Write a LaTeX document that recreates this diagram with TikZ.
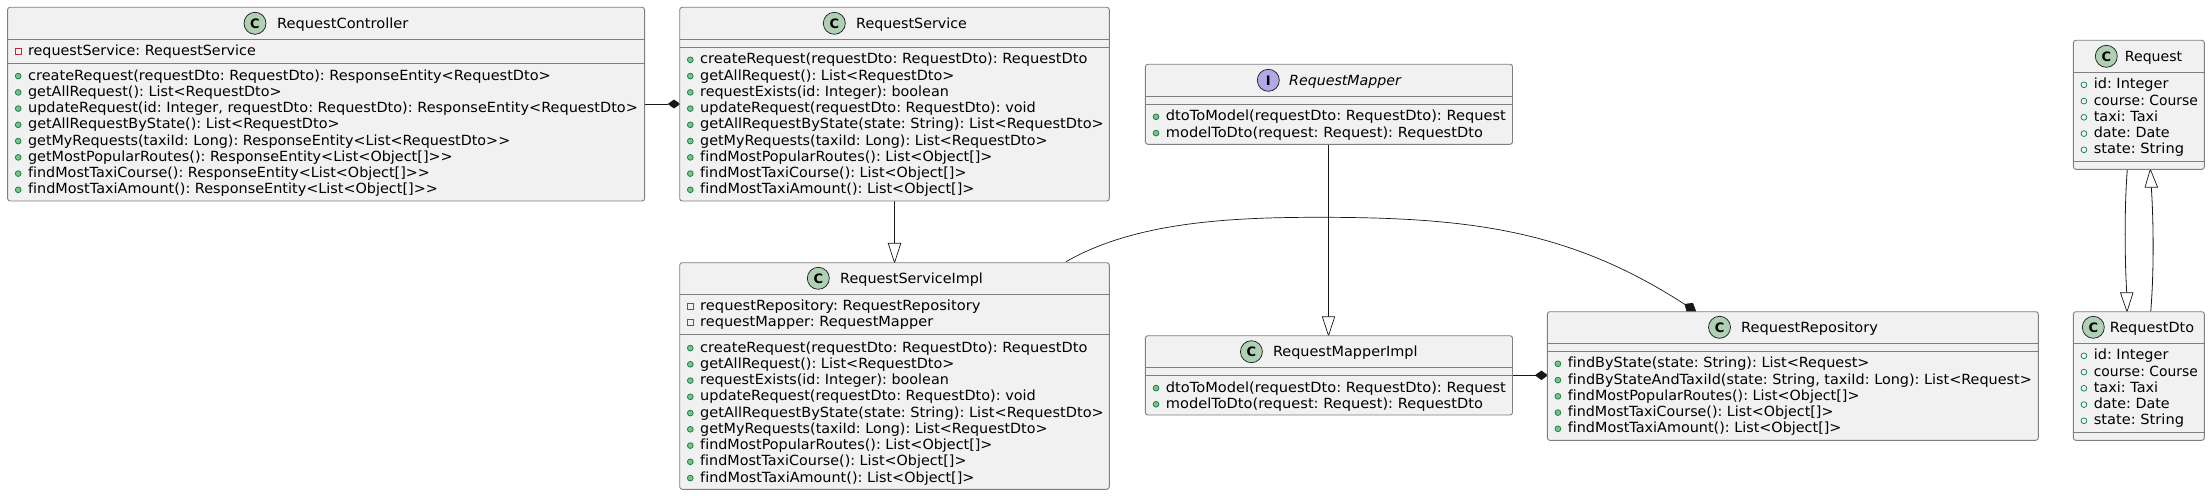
\documentclass[tikz,border=0pt]{standalone}
\usepackage{fontspec}
\usepackage{graphicx}
\setmainfont[Ligatures=NoCommon]{DejaVu Sans}
\AtBeginDocument{\frenchspacing}
\usetikzlibrary{calc}
\definecolor{boxfill}{HTML}{F1F1F1}
\definecolor{inkc}{HTML}{181818}
\definecolor{framec}{HTML}{7F7F7F}
\definecolor{spotc}{HTML}{ADD1B2}
\definecolor{spoti}{HTML}{B4A7E5}
\definecolor{pubc}{HTML}{038048}
\definecolor{pubf}{HTML}{84BE84}
\definecolor{privc}{HTML}{C82930}
\tikzset{
  x=1pt,y=-1pt,
  umlbox/.style={draw=framec,fill=boxfill,line width=0.9pt,rounded corners=2.5pt},
  sepline/.style={draw=framec,line width=0.9pt},
  rel/.style={draw=inkc,line width=0.8pt},
  hollowtip/.style={draw=inkc,fill=white,line width=0.7pt},
  solidtip/.style={draw=inkc,fill=inkc,line width=0.7pt},
  spot/.style={circle,draw=inkc,line width=0.7pt,minimum size=22pt,inner sep=0pt,font=\fontsize{13}{13}\selectfont\bfseries},
  titletext/.style={inner sep=0pt,anchor=base west,font=\fontsize{14}{14}\selectfont},
  rowtext/.style={inner sep=0pt,anchor=base west,font=\fontsize{14}{14}\selectfont},
}
% set text so that its width is #1 px
\newsavebox{\fitsave}
\newcommand{\fitw}[2]{%
  \sbox{\fitsave}{#2}%
  \pgfmathsetmacro{\fitratio}{#1/(\wd\fitsave/1pt)}%
  \scalebox{\fitratio}[1]{\usebox{\fitsave}}%
}
\newcommand{\frameclass}[7]{%
  \path[umlbox] (#2,#4) rectangle (#3,#7);
  \draw[sepline] (#2,#5) -- (#3,#5);
  \draw[sepline] (#2,#6) -- (#3,#6);
}
\newcommand{\heading}[7]{%
  \node[spot,fill=spotc] (#1-spot) at (#3,#4) {#2};
  \node[titletext] (#1-title) at (#5,#4+5) {\fitw{#6}{#7}};
}
\newcommand{\methodrow}[4]{%
  \path[draw=pubc,fill=pubf,line width=0.7pt] (#1+10.6,#2+0.8) circle[radius=2.9pt];
  \node[rowtext] at (#1+20.3,#2+4.8) {\fitw{#3}{#4}};
}
\newcommand{\fieldrow}[4]{%
  \path[draw=pubc,line width=0.7pt] (#1+10.6,#2+0.8) circle[radius=2.9pt];
  \node[rowtext] at (#1+20.3,#2+4.8) {\fitw{#3}{#4}};
}
\newcommand{\privrow}[4]{%
  \path[draw=privc,line width=0.7pt] (#1+7.4,#2-2.2) rectangle ++(6,6);
  \node[rowtext] at (#1+20.3,#2+4.8) {\fitw{#3}{#4}};
}
\newcommand{\lt}{\textless\kern0pt }
\newcommand{\gtr}{\textgreater\kern0pt }
\begin{document}
\begin{tikzpicture}
\useasboundingbox (0,0) rectangle (2210,495);
\path[fill=white] (0,0) rectangle (2210,495);
\draw[rel] (644.6,104) -- (668.3,104);
\path[solidtip] (668.3,104) -- (674,100) -- (679.7,104) -- (674,108) -- cycle;
\draw[rel] (894.5,201) -- (894.5,243.3);
\path[hollowtip] (888.2,243.3) -- (900.8,243.3) -- (894.5,262.7) -- cycle;
\draw[rel] (1328.5,144.3) -- (1328.5,316.7);
\path[hollowtip] (1322.3,316.7) -- (1334.7,316.7) -- (1328.5,335.7) -- cycle;
\draw[rel] (1512.5,375.3) -- (1535.5,375.3);
\path[solidtip] (1535.5,375.3) -- (1541.4,371) -- (1547.3,375.3) -- (1541.4,379.6) -- cycle;
\draw[rel,line width=0.7pt] (1066,261.7) .. controls (1135,222) and (1230,217.3) .. (1319,217.3) .. controls (1470,217.3) and (1570,230) .. (1685,304.5);
\path[solidtip] (1685,304.3) -- (1692.7,303.3) -- (1696,312) -- (1687,312) -- cycle;
\draw[rel] (2127.3,169.3) .. controls (2124.5,205) and (2124.5,255) .. (2126.7,292.7);
\path[hollowtip] (2120.4,292.7) -- (2133,292.7) -- (2127,311.7) -- cycle;
\draw[rel] (2150.7,311.7) .. controls (2153.8,275) and (2153.8,225) .. (2151.3,187.3);
\path[hollowtip] (2145,187.3) -- (2157.6,187.3) -- (2150.3,169.3) -- cycle;

\frameclass{ctrl}{7.6}{644.6}{7.3}{39.3}{63.3}{201}
\heading{ctrl}{C}{255}{23.3}{277}{131.2}{RequestController}
\privrow{7.6}{51}{227.7}{requestService: RequestService}
\methodrow{7.6}{75.3}{522.8}{createRequest(requestDto: RequestDto): ResponseEntity\lt RequestDto\gtr}
\methodrow{7.6}{91.6}{253.6}{getAllRequest(): List\lt RequestDto\gtr}
\methodrow{7.6}{107.8}{609.8}{updateRequest(id: Integer, requestDto: RequestDto): ResponseEntity\lt RequestDto\gtr}
\methodrow{7.6}{124}{311.6}{getAllRequestByState(): List\lt RequestDto\gtr}
\methodrow{7.6}{140.3}{482.1}{getMyRequests(taxiId: Long): ResponseEntity\lt List\lt RequestDto\gtr\gtr}
\methodrow{7.6}{156.6}{424.6}{getMostPopularRoutes(): ResponseEntity\lt List\lt Object[]\gtr\gtr}
\methodrow{7.6}{172.8}{401.8}{findMostTaxiCourse(): ResponseEntity\lt List\lt Object[]\gtr\gtr}
\methodrow{7.6}{189}{409.8}{findMostTaxiAmount(): ResponseEntity\lt List\lt Object[]\gtr\gtr}

\frameclass{svc}{679.7}{1109.3}{7.3}{39.3}{47.3}{201}
\heading{svc}{C}{834.3}{23.3}{856}{110.7}{RequestService}
\methodrow{679.7}{59}{387.3}{createRequest(requestDto: RequestDto): RequestDto}
\methodrow{679.7}{75.3}{254.3}{getAllRequest(): List\lt RequestDto\gtr}
\methodrow{679.7}{91.6}{248.7}{requestExists(id: Integer): boolean}
\methodrow{679.7}{107.8}{335.7}{updateRequest(requestDto: RequestDto): void}
\methodrow{679.7}{124}{403.7}{getAllRequestByState(state: String): List\lt RequestDto\gtr}
\methodrow{679.7}{140.3}{347.3}{getMyRequests(taxiId: Long): List\lt RequestDto\gtr}
\methodrow{679.7}{156.6}{292.3}{findMostPopularRoutes(): List\lt Object[]\gtr}
\methodrow{679.7}{172.8}{266.3}{findMostTaxiCourse(): List\lt Object[]\gtr}
\methodrow{679.7}{189}{274.3}{findMostTaxiAmount(): List\lt Object[]\gtr}

\frameclass{impl}{679.7}{1109.3}{262.7}{294.3}{334.3}{489.3}
\heading{impl}{C}{818.3}{278.3}{840}{142.7}{RequestServiceImpl}
\privrow{679.7}{306}{280.3}{requestRepository: RequestRepository}
\privrow{679.7}{322}{233}{requestMapper: RequestMapper}
\methodrow{679.7}{347.3}{387.3}{createRequest(requestDto: RequestDto): RequestDto}
\methodrow{679.7}{363.5}{254.3}{getAllRequest(): List\lt RequestDto\gtr}
\methodrow{679.7}{379.8}{248.7}{requestExists(id: Integer): boolean}
\methodrow{679.7}{396}{335.7}{updateRequest(requestDto: RequestDto): void}
\methodrow{679.7}{412.3}{403.7}{getAllRequestByState(state: String): List\lt RequestDto\gtr}
\methodrow{679.7}{428.5}{347.3}{getMyRequests(taxiId: Long): List\lt RequestDto\gtr}
\methodrow{679.7}{444.8}{292.3}{findMostPopularRoutes(): List\lt Object[]\gtr}
\methodrow{679.7}{461}{266.3}{findMostTaxiCourse(): List\lt Object[]\gtr}
\methodrow{679.7}{477.3}{274.3}{findMostTaxiAmount(): List\lt Object[]\gtr}

\frameclass{map}{1145.4}{1512.5}{64.3}{96.3}{104.3}{144.3}
\node[spot,fill=spoti] (map-spot) at (1268.3,80.3) {I};
\node[titletext,font=\fontsize{14}{14}\selectfont\itshape] (map-title) at (1289,85.3) {\fitw{111.8}{RequestMapper}};
\methodrow{1145.4}{116}{340}{dtoToModel(requestDto: RequestDto): Request}
\methodrow{1145.4}{132.3}{317}{modelToDto(request: Request): RequestDto}

\frameclass{mapi}{1145.4}{1512.5}{335.7}{367.3}{375.3}{415}
\heading{mapi}{C}{1251.4}{351.7}{1272.8}{144.6}{RequestMapperImpl}
\methodrow{1145.4}{387.3}{340}{dtoToModel(requestDto: RequestDto): Request}
\methodrow{1145.4}{403.5}{317}{modelToDto(request: Request): RequestDto}

\frameclass{repo}{1547.3}{2038.3}{311.7}{343.3}{351.3}{440.3}
\heading{repo}{C}{1719.5}{327.3}{1741}{136.7}{RequestRepository}
\methodrow{1547.3}{363}{301.7}{findByState(state: String): List\lt Request\gtr}
\methodrow{1547.3}{379.3}{464}{findByStateAndTaxiId(state: String, taxiId: Long): List\lt Request\gtr}
\methodrow{1547.3}{395.5}{291.7}{findMostPopularRoutes(): List\lt Object[]\gtr}
\methodrow{1547.3}{411.8}{265.7}{findMostTaxiCourse(): List\lt Object[]\gtr}
\methodrow{1547.3}{428}{273.7}{findMostTaxiAmount(): List\lt Object[]\gtr}

\frameclass{req}{2073.3}{2204.3}{40.3}{72.3}{161.3}{169.3}
\heading{req}{C}{2106.3}{56.3}{2124.7}{57.3}{Request}
\fieldrow{2073.3}{84}{74.7}{id: Integer}
\fieldrow{2073.3}{100.3}{104}{course: Course}
\fieldrow{2073.3}{116.5}{64.3}{taxi: Taxi}
\fieldrow{2073.3}{132.8}{76}{date: Date}
\fieldrow{2073.3}{149}{90.3}{state: String}

\frameclass{dto}{2073.3}{2204.3}{311.7}{343.3}{432.3}{440.3}
\heading{dto}{C}{2093.3}{327.3}{2109.7}{84.3}{RequestDto}
\fieldrow{2073.3}{355}{74.7}{id: Integer}
\fieldrow{2073.3}{371.3}{104}{course: Course}
\fieldrow{2073.3}{387.5}{64.3}{taxi: Taxi}
\fieldrow{2073.3}{403.8}{76}{date: Date}
\fieldrow{2073.3}{420}{90.3}{state: String}
\end{tikzpicture}
\end{document}
